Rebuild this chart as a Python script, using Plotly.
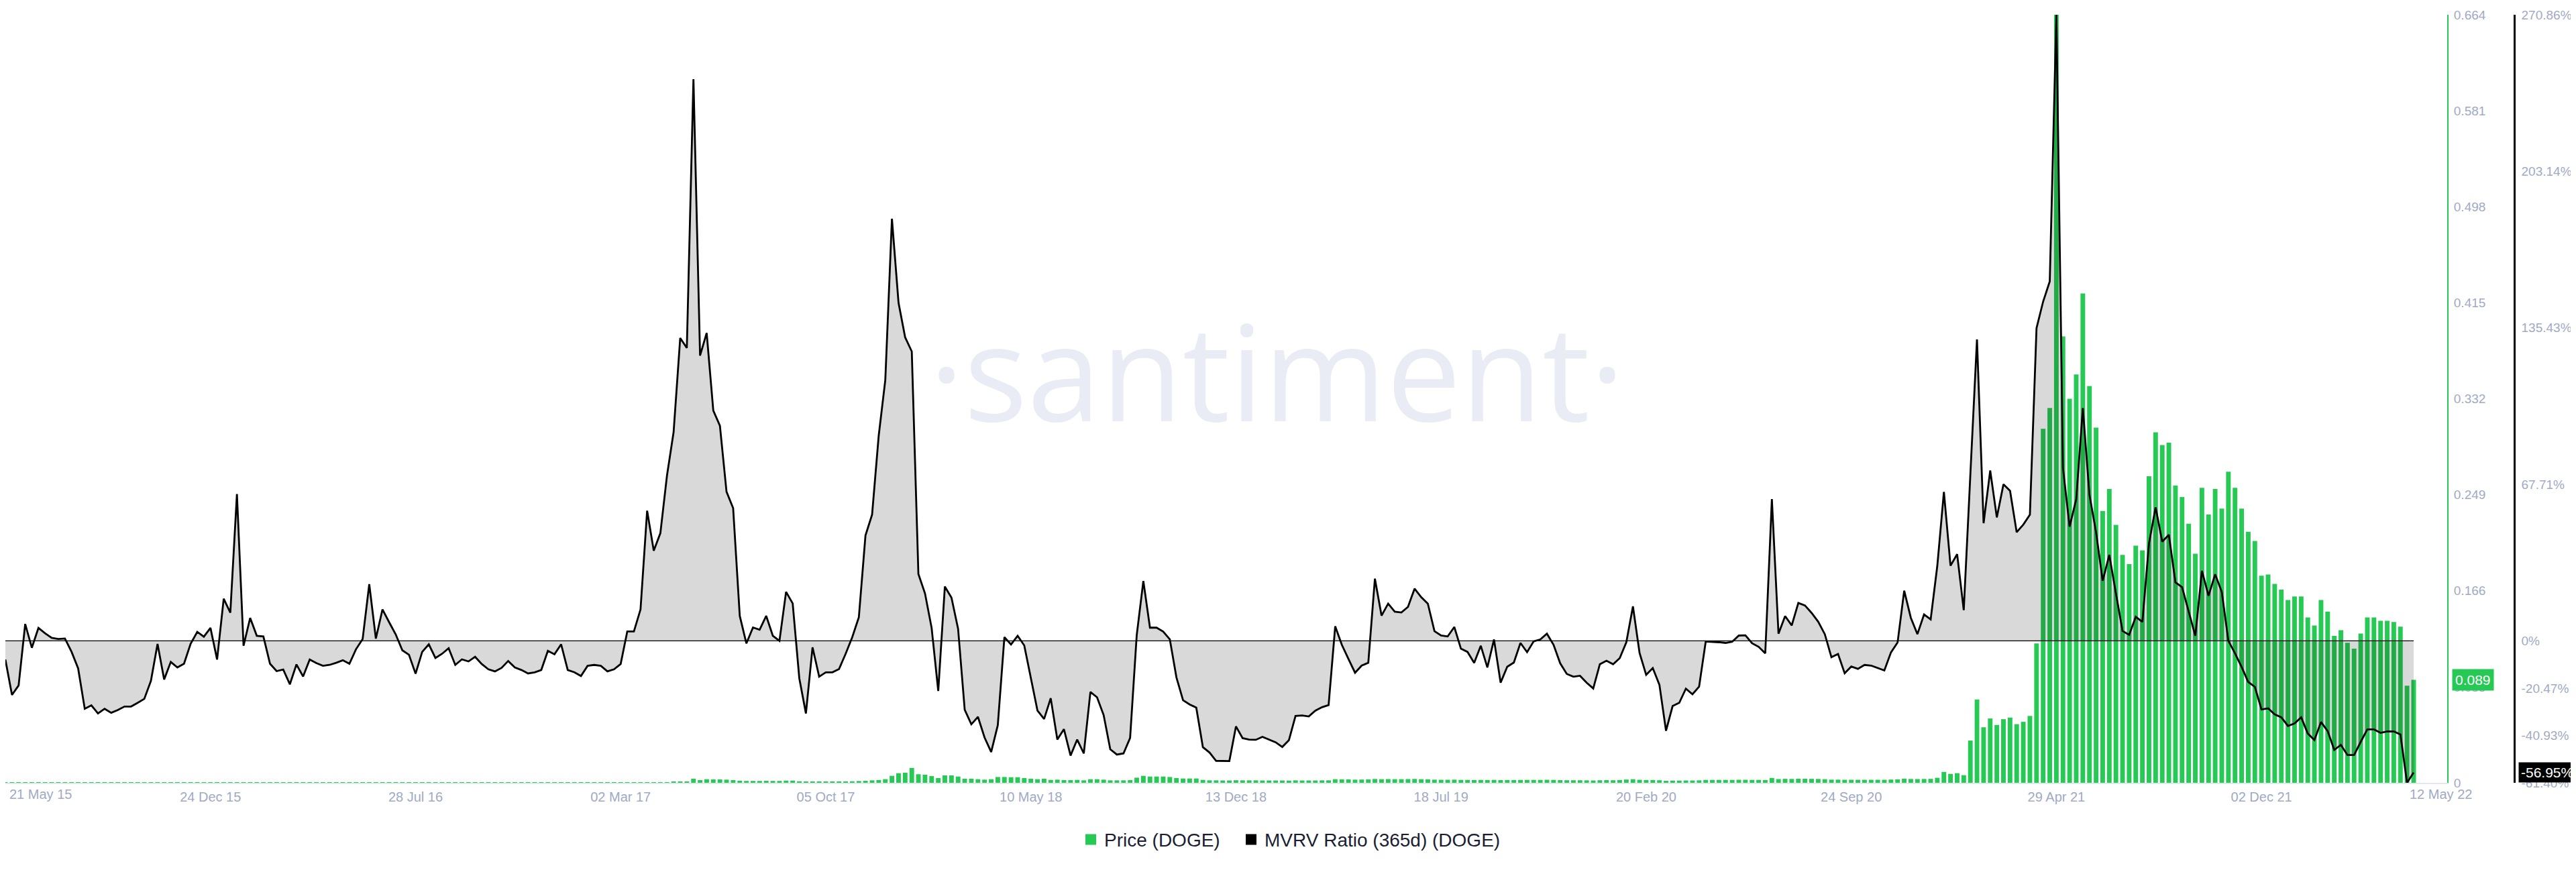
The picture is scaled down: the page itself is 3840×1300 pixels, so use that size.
import pandas as pd
import plotly.graph_objects as go

# ---------------- data ----------------
start_date = "2015-05-21"

mvrv_a = [-8.1, -23.4, -19.3, 7.3, -3.0, 5.6, 3.3, 1.3, 0.8, 1.0,
          -4.7, -11.9, -29.4, -27.9, -31.4, -29.4, -31.1, -29.9, -28.4, -28.4,
          -26.8, -25.1, -17.3, -1.3, -16.7, -9.1, -11.5, -9.9, -1.3, 3.9,
          1.8, 5.6, -8.1, 18.2, 12.2, 63.5, -2.1, 9.9, 2.2, 1.9,
          -9.9, -13.1, -12.4, -18.8, -10.2, -15.4, -8.1, -9.6, -10.8, -10.4,
          -9.5, -8.4, -9.9, -3.6, 0.8, 24.5, 1.0, 13.6, 8.1, 2.8,
          -4.1, -6.0, -14.2]
mvrv_b = [-4.8, -1.5, -7.4, -5.6, -3.2, -10.4, -8.0, -8.9, -6.9, -10.0,
          -12.3, -13.2, -11.7, -8.7, -11.5, -12.6, -14.1, -13.6, -12.6, -4.3,
          -5.8, -1.5, -12.6, -13.6, -15.2, -10.8, -10.4, -10.8, -13.2, -12.3,
          -10.0, 4.1, 4.1, 13.6, 56.3, 39.0, 46.6, 71.5, 90.3, 131.0,
          126.7, 243.0, 123.4, 133.2, 99.6, 93.1, 64.5, 57.4, 10.8, -1.1,
          5.8, 4.8, 10.8, 2.2, 0.0, 21.2, 16.2, -16.2, -31.4, -2.8,
          -15.5]
mvrv_c = [-13.6, -13.6, -12.2, -5.6, 1.6, 10.2, 45.6, 54.6, 88.7, 112.9,
          182.6, 146.2, 131.3, 125.2, 28.9, 20.5, 5.6, -21.7, 23.5, 18.7,
          5.2, -29.8, -36.1, -32.9, -41.8, -48.1, -36.5, 1.6, -1.6, 2.2,
          -2.0, -16.0, -30.2, -33.8, -24.8, -42.7, -38.2, -49.6, -42.7, -48.7,
          -22.1, -24.4, -32.1, -46.9, -49.2, -48.7, -42.0, 2.5, 25.9, 5.7,
          5.7, 4.0, 0.7, -15.8, -25.7, -27.5, -28.9, -46.0, -48.3, -51.9,
          -51.9, -52.0]
mvrv_d = [-37.0, -42.1, -42.7, -42.8, -41.5, -42.7, -43.9, -45.9, -43.0, -32.5,
          -32.3, -32.7, -30.2, -28.7, -27.8, 6.3, -1.7, -7.8, -13.8, -10.7,
          -9.5, 26.9, 10.9, 16.1, 12.6, 12.3, 14.7, 22.6, 18.9, 16.1,
          4.2, 2.3, 1.9, 6.0, -3.4, -4.8, -9.5, -2.1, -11.5, 0.6,
          -18.1, -11.2, -9.4, -0.9, -4.9, -0.2, 0.6, 3.1, -1.7, -9.7,
          -14.3, -15.5, -15.1, -18.1, -20.6, -10.1, -8.6, -10.1, -7.5, -0.6,
          14.9, -5.2]
mvrv_e = [-14.7, -11.8, -19.0, -38.9, -28.2, -26.8, -20.7, -23.1, -19.8, -0.3,
          -0.4, -0.6, -0.9, -0.4, 2.3, 2.4, -1.0, -2.6, -5.4, 61.3,
          3.1, 10.7, 6.7, 16.4, 15.3, 12.1, 8.3, 2.9, -7.1, -5.7,
          -14.0, -11.1, -12.1, -10.4, -10.7, -11.8, -12.8, -5.0, -0.7, 21.7,
          10.0, 2.9, 11.4, 9.3, 32.4, 64.4, 32.5, 37.5, 13.3, 72.0,
          130.4, 50.9, 73.7, 53.4, 67.7, 64.9, 47.0, 50.3, 54.6, 135.3,
          146.8, 155.5]
mvrv_f = [270.86, 74.7, 49.4, 61.3, 100.7, 63.2, 47.0, 26.0, 37.2, 20.6,
          4.3, 2.6, 10.4, 8.2, 42.2, 57.8, 42.9, 45.9, 25.3, 23.2,
          12.6, 2.2, 30.3, 19.5, 28.8, 21.2, 0.0, -5.4, -11.3, -17.8,
          -19.9, -29.7, -29.2, -31.8, -33.1, -36.8, -35.7, -33.1, -40.1, -42.9,
          -35.1, -39.0, -47.2, -45.0, -49.4, -49.4, -43.7, -38.3, -38.3, -39.8,
          -39.2, -39.2, -40.5, -61.40, -56.95]

price_a = [0.00013, 0.00012, 0.00012, 0.00013, 0.00013, 0.00012, 0.00012, 0.00012, 0.00012, 0.00012, 0.00013,
           0.00013, 0.00013, 0.00013, 0.00012, 0.00013, 0.00012, 0.00012, 0.00012, 0.00013, 0.00013,
           0.00013, 0.00014, 0.00015, 0.00014, 0.00014, 0.00014, 0.00015, 0.00016, 0.00016, 0.00017,
           0.00017, 0.00016, 0.00019, 0.00018, 0.00025, 0.00019, 0.00021, 0.00020, 0.00020, 0.00019,
           0.00019, 0.00019, 0.00018, 0.00019, 0.00018, 0.00019, 0.00019, 0.00019, 0.00019, 0.00019,
           0.00020, 0.00020, 0.00021, 0.00022, 0.00030, 0.00024, 0.00028, 0.00026, 0.00025, 0.00024,
           0.00023, 0.00021, 0.00023, 0.00024, 0.00023, 0.00023, 0.00024, 0.00022, 0.00023, 0.00023,
           0.00023, 0.00023, 0.00022, 0.00022, 0.00022, 0.00023, 0.00022, 0.00022, 0.00022, 0.00022,
           0.00022, 0.00024, 0.00024, 0.00025, 0.00022, 0.00022, 0.00021, 0.00022, 0.00022, 0.00022,
           0.00022, 0.00022, 0.00023, 0.00026, 0.00027, 0.00030, 0.00045, 0.00040, 0.00043, 0.00055]
price_b = [0.0007, 0.0009, 0.0011, 0.0035, 0.0023, 0.0031, 0.0029, 0.0029, 0.0027, 0.0023,
           0.0018, 0.0016, 0.0016, 0.0016, 0.0017, 0.0016, 0.0016, 0.0019, 0.0019, 0.0013,
           0.0010, 0.0010, 0.0010, 0.0010, 0.0011, 0.0011, 0.0012, 0.0013, 0.0015, 0.0017,
           0.0021]
price_c = [0.0024, 0.0031, 0.0060, 0.0083, 0.0087, 0.0128, 0.0074, 0.0070, 0.0058, 0.0041,
           0.0064, 0.0064, 0.0054, 0.0035, 0.0035, 0.0031, 0.0027, 0.0031, 0.0050, 0.0050,
           0.0048, 0.0048, 0.0041, 0.0035, 0.0031, 0.0035, 0.0025, 0.0027, 0.0023, 0.0023,
           0.0025, 0.0021, 0.0031, 0.0031, 0.0027, 0.0021, 0.0021, 0.0021, 0.0023, 0.0044,
           0.0060, 0.0054, 0.0054, 0.0054, 0.0050, 0.0041, 0.0037, 0.0037, 0.0037, 0.0025,
           0.0021]
price_d = [0.0021, 0.0020, 0.0020, 0.0022, 0.0021, 0.0021, 0.0021, 0.0020, 0.0020, 0.0020,
           0.0020, 0.0019, 0.0021, 0.0020, 0.0020, 0.0020, 0.0021, 0.0021,
           0.0031, 0.0030, 0.0029, 0.0027, 0.0028, 0.0029, 0.0033, 0.0031, 0.0032, 0.0031,
           0.0031, 0.0032, 0.0033, 0.0031, 0.0030,
           0.0027, 0.0026, 0.0026, 0.0027, 0.0025, 0.0025, 0.0024, 0.0025, 0.0024, 0.0025,
           0.0023, 0.0024, 0.0024, 0.0025, 0.0025, 0.0025, 0.0025, 0.0026, 0.0025, 0.0023,
           0.0022, 0.0022, 0.0022, 0.0021, 0.0020, 0.0022, 0.0023, 0.0022, 0.0024, 0.0028,
           0.0031, 0.0026, 0.0024, 0.0024, 0.0022, 0.0017, 0.0019, 0.0019, 0.0020, 0.0020,
           0.0021]
price_e = [0.0025, 0.0025, 0.0025, 0.0025, 0.0025, 0.0026, 0.0026, 0.0025, 0.0025, 0.0024,
           0.0042, 0.0032, 0.0034, 0.0033, 0.0035, 0.0035, 0.0034, 0.0033, 0.0031, 0.0027,
           0.0027, 0.0026, 0.0026, 0.0026, 0.0026, 0.0026, 0.0026, 0.0026, 0.0028, 0.0030,
           0.0036, 0.0033, 0.0032, 0.0033, 0.0034,
           0.0043, 0.0094, 0.0077, 0.0083, 0.0066, 0.0365, 0.072, 0.048, 0.0556, 0.050,
           0.055, 0.0564, 0.0507, 0.0527, 0.0578, 0.1205, 0.306, 0.324]
price_f = [0.664, 0.386, 0.332, 0.353, 0.423, 0.343, 0.307, 0.235, 0.254, 0.223,
           0.197, 0.189, 0.205, 0.201, 0.265, 0.303, 0.292, 0.294, 0.257, 0.247,
           0.224, 0.198, 0.255, 0.232, 0.254, 0.237, 0.269, 0.255, 0.237, 0.217,
           0.209, 0.179, 0.180, 0.172, 0.167, 0.158, 0.161, 0.161, 0.143, 0.136,
           0.158, 0.148, 0.127, 0.132, 0.121, 0.116, 0.129, 0.143, 0.143, 0.140,
           0.140, 0.139, 0.135, 0.084, 0.089]

mvrv = mvrv_a + mvrv_b + mvrv_c + mvrv_d + mvrv_e + mvrv_f
price = price_a + price_b + price_c + price_d + price_e + price_f
assert len(mvrv) == len(price), (len(mvrv), len(price))

dates = pd.date_range(start_date, periods=len(mvrv), freq="7D")

x_tick_dates = ["2015-12-24", "2016-07-28", "2017-03-02", "2017-10-05", "2018-05-10",
                "2018-12-13", "2019-07-18", "2020-02-20", "2020-09-24", "2021-04-29",
                "2021-12-02"]
x_tick_text = ["24 Dec 15", "28 Jul 16", "02 Mar 17", "05 Oct 17", "10 May 18",
               "13 Dec 18", "18 Jul 19", "20 Feb 20", "24 Sep 20", "29 Apr 21",
               "02 Dec 21"]
x_first_label = "21 May 15"
x_last_label = "12 May 22"

price_ticks = [0, 0.083, 0.166, 0.249, 0.332, 0.415, 0.498, 0.581, 0.664]
price_tick_text = ["0", "0.083", "0.166", "0.249", "0.332", "0.415", "0.498", "0.581", "0.664"]
mvrv_ticks = [-61.40, -40.93, -20.47, 0, 67.71, 135.43, 203.14, 270.86]
mvrv_tick_text = ["-61.40%", "-40.93%", "-20.47%", "0%", "67.71%", "135.43%", "203.14%", "270.86%"]

# ---------------- style ----------------
GREEN = "#26c953"
AXIS_TXT = "#9faac4"
FONT = "Liberation Sans"
W, H = 3840, 1300
ML, MR, MT, MB = 0, 100, 14, 141
plot_right_px = 3640
paper_w = W - ML - MR
plot_h = H - MT - MB
x_dom_end = plot_right_px / paper_w

fig = go.Figure()

fig.add_trace(go.Bar(
    x=dates, y=price, name="Price (DOGE)", yaxis="y",
    marker=dict(color=GREEN, line=dict(width=0)),
    width=0.7 * 7 * 24 * 3600 * 1000,
    showlegend=False, hoverinfo="skip",
))

fig.add_trace(go.Scatter(
    x=dates, y=mvrv, name="MVRV Ratio (365d) (DOGE)", yaxis="y2",
    mode="lines", line=dict(color="black", width=2.8),
    fill="tozeroy", fillcolor="rgba(0,0,0,0.15)",
    showlegend=False, hoverinfo="skip",
))

# legend entries (one legend box each, placed independently)
fig.add_trace(go.Scatter(x=[None], y=[None], mode="markers", name="Price (DOGE)",
                         legend="legend",
                         marker=dict(symbol="square", size=20, color=GREEN)))
fig.add_trace(go.Scatter(x=[None], y=[None], mode="markers", name="MVRV Ratio (365d) (DOGE)",
                         legend="legend2",
                         marker=dict(symbol="square", size=20, color="black")))

x_end = dates[-1] + pd.Timedelta(days=35.5)

legend_common = dict(
    orientation="h", xanchor="left", y=-0.074, yanchor="middle",
    font=dict(size=28, color="#1b1e33", family=FONT),
    itemsizing="trace", bgcolor="rgba(0,0,0,0)",
)

fig.update_layout(
    width=W, height=H,
    margin=dict(l=ML, r=MR, t=MT, b=MB, pad=0),
    paper_bgcolor="white", plot_bgcolor="white",
    font=dict(family=FONT, color=AXIS_TXT),
    xaxis=dict(
        domain=[0, x_dom_end], type="date",
        range=[dates[0], x_end],
        tickvals=x_tick_dates, ticktext=x_tick_text,
        tickfont=dict(size=20, color=AXIS_TXT, family=FONT),
        showgrid=False, zeroline=False,
        showline=True, linecolor="#e3e7f1", linewidth=2,
        ticks="", ticklen=0, ticklabelstandoff=2,
    ),
    yaxis=dict(
        side="right", anchor="x", range=[0, 0.664],
        tickvals=price_ticks, ticktext=price_tick_text,
        tickfont=dict(size=19, color=AXIS_TXT, family=FONT),
        showgrid=False, zeroline=False,
        showline=True, linecolor=GREEN, linewidth=2,
        ticks="", ticklen=0, ticklabelstandoff=4,
    ),
    yaxis2=dict(
        overlaying="y", side="right", anchor="free", position=1.0,
        range=[-61.40, 270.86],
        tickvals=mvrv_ticks, ticktext=mvrv_tick_text,
        tickfont=dict(size=19, color=AXIS_TXT, family=FONT),
        showgrid=False, zeroline=False,
        showline=True, linecolor="black", linewidth=2.5,
        ticks="", ticklen=0, ticklabelstandoff=5,
    ),
    legend=dict(x=(1618 - 20) / paper_w, **legend_common),
    legend2=dict(x=(1857 - 20) / paper_w, **legend_common),
    showlegend=True,
)

# zero line of MVRV
fig.add_shape(type="line", xref="x", yref="y2", x0=dates[0], x1=dates[-1], y0=0, y1=0,
              line=dict(color="black", width=1.2), layer="above")

# watermark
fig.add_annotation(text="·santiment·", xref="paper", yref="paper",
                   x=1895 / paper_w, y=(1159 - 543) / plot_h, xanchor="center", yanchor="middle",
                   showarrow=False, font=dict(family="Open Sans", size=198, color="#e9ecf4"))

# x end labels
fig.add_annotation(text=x_first_label, xref="x", yref="paper", x=dates[0], y=0,
                   xanchor="left", yanchor="top", xshift=4, yshift=-4, showarrow=False,
                   font=dict(size=20, color=AXIS_TXT, family=FONT))
fig.add_annotation(text=x_last_label, xref="x", yref="paper", x=dates[-1], y=0,
                   xanchor="left", yanchor="top", xshift=-8, yshift=-4, showarrow=False,
                   font=dict(size=20, color=AXIS_TXT, family=FONT))

# current value badges
fig.add_annotation(text=f"{price[-1]:.3f}", xref="paper", yref="y", x=3647 / paper_w, y=price[-1],
                   xanchor="left", yanchor="middle", showarrow=False, bgcolor=GREEN,
                   borderpad=4, font=dict(size=21, color="white", family=FONT))
fig.add_annotation(text=f"{mvrv[-1]:.2f}%", xref="paper", yref="y2", x=3746 / paper_w, y=mvrv[-1],
                   xanchor="left", yanchor="middle", showarrow=False, bgcolor="black",
                   borderpad=3, font=dict(size=21, color="white", family=FONT))

fig.write_html("out.html")
